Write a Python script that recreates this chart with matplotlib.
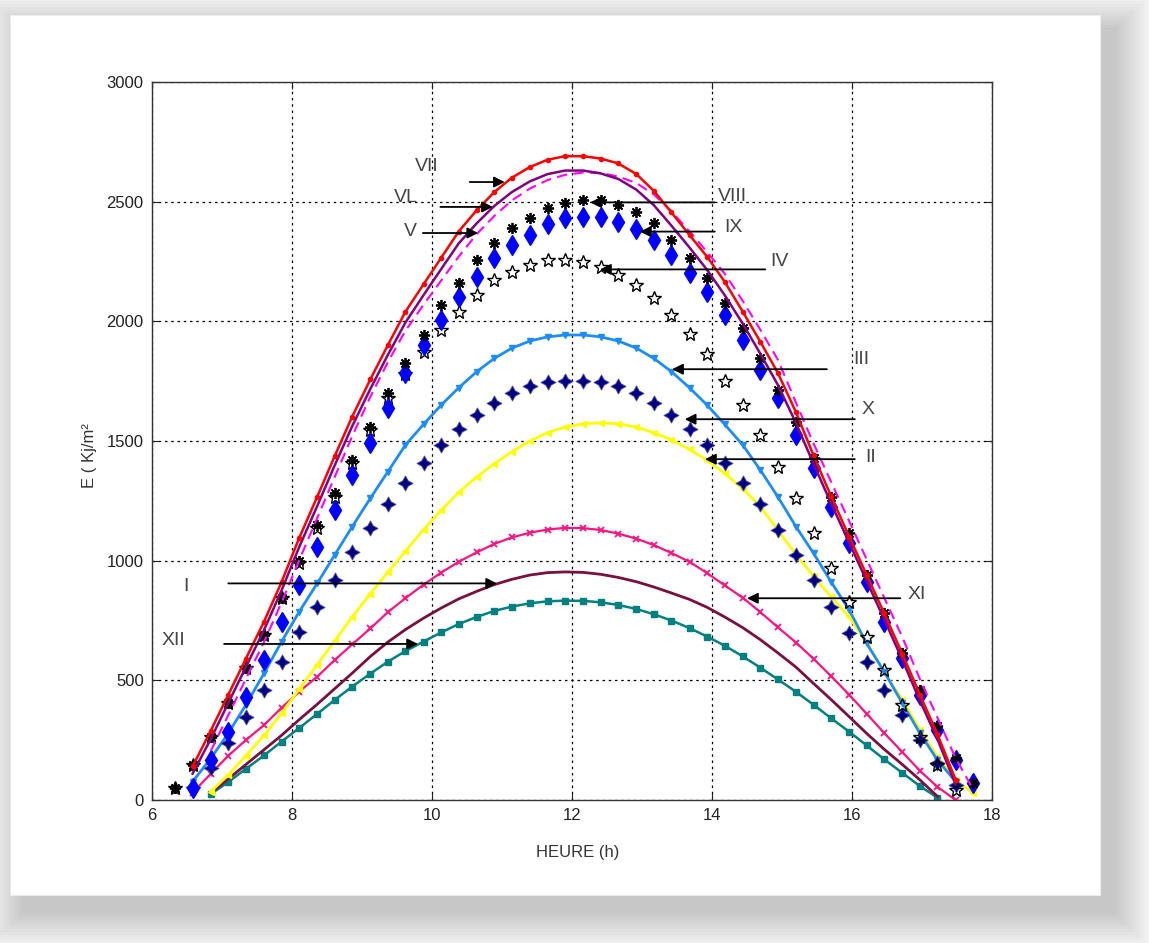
import numpy as np
import matplotlib
matplotlib.use('Agg')
import matplotlib.pyplot as plt
from matplotlib.patches import Rectangle

nan = np.nan

# heures (h)
heure = [6.33, 6.58, 6.84, 7.09, 7.34, 7.60, 7.85, 8.10, 8.36, 8.61,
         8.86, 9.12, 9.37, 9.62, 9.88, 10.13, 10.38, 10.64, 10.89, 11.14,
         11.40, 11.65, 11.90, 12.16, 12.41, 12.66, 12.92, 13.17, 13.42, 13.68,
         13.93, 14.18, 14.44, 14.69, 14.94, 15.20, 15.45, 15.70, 15.96, 16.21,
         16.46, 16.72, 16.97, 17.22, 17.48, 17.73]

# energie E (Kj/m2) pour chaque mois
E_I = [nan, nan, 30, 88, 148, 210, 270, 335, 400, 465,
       530, 600, 660, 712, 760, 802, 840, 872, 900, 922,
       940, 950, 953, 951, 943, 930, 912, 890, 865, 838,
       805, 765, 720, 670, 615, 555, 487, 420, 348, 278,
       212, 148, 84, 15, nan, nan]
E_II = [nan, nan, 35, 105, 185, 270, 362, 462, 565, 665,
        765, 862, 952, 1040, 1130, 1210, 1285, 1350, 1405, 1455,
        1500, 1535, 1558, 1572, 1576, 1572, 1558, 1535, 1505, 1465,
        1420, 1365, 1300, 1226, 1128, 1025, 935, 850, 765, 654,
        536, 418, 293, 181, 84, 28]
E_III = [nan, 77, 174, 279, 397, 529, 661, 785, 905, 1024,
         1142, 1261, 1372, 1483, 1570, 1650, 1722, 1790, 1845, 1888,
         1918, 1935, 1943, 1943, 1935, 1918, 1888, 1845, 1790, 1722,
         1650, 1570, 1483, 1379, 1267, 1142, 1031, 912, 794, 654,
         536, 404, 279, 167, 77, nan]
E_IV = [50, 146, 265, 404, 550, 690, 843, 990, 1136, 1267,
        1408, 1546, 1680, 1780, 1873, 1964, 2039, 2110, 2173, 2206,
        2236, 2257, 2257, 2248, 2227, 2194, 2150, 2097, 2027, 1947,
        1864, 1751, 1650, 1525, 1393, 1260, 1114, 968, 826, 682,
        543, 395, 265, 145, 40, nan]
E_V = [nan, nan, 205, 355, 505, 660, 825, 1000, 1178, 1350,
       1520, 1685, 1830, 1960, 2070, 2170, 2270, 2365, 2440, 2505,
       2555, 2590, 2612, 2622, 2620, 2605, 2578, 2530, 2460, 2375,
       2290, 2200, 2085, 1965, 1840, 1660, 1490, 1330, 1165, 1005,
       845, 680, 505, 345, 175, 45]
E_VI = [nan, 110, 255, 405, 555, 710, 875, 1055, 1228, 1398,
        1562, 1718, 1860, 1995, 2110, 2218, 2325, 2410, 2482, 2540,
        2585, 2615, 2630, 2630, 2618, 2595, 2550, 2485, 2400, 2308,
        2215, 2110, 1990, 1865, 1735, 1575, 1405, 1240, 1075, 915,
        755, 585, 415, 255, 65, nan]
E_VII = [nan, 140, 290, 440, 590, 745, 910, 1093, 1267, 1437,
         1602, 1758, 1901, 2040, 2155, 2265, 2375, 2465, 2540, 2600,
         2645, 2675, 2690, 2690, 2680, 2660, 2615, 2545, 2455, 2360,
         2270, 2166, 2040, 1915, 1785, 1620, 1440, 1270, 1100, 940,
         780, 610, 440, 275, 85, nan]
E_VIII = [50, 146, 265, 404, 550, 690, 843, 1000, 1149, 1282,
          1421, 1560, 1700, 1825, 1943, 2068, 2159, 2256, 2326, 2389,
          2431, 2472, 2496, 2507, 2507, 2486, 2455, 2410, 2340, 2263,
          2183, 2075, 1971, 1846, 1713, 1581, 1428, 1267, 1114, 940,
          780, 613, 460, 310, 175, 70]
E_IX = [nan, 50, 167, 285, 432, 585, 745, 898, 1058, 1212,
        1358, 1491, 1638, 1783, 1901, 2006, 2103, 2187, 2263, 2319,
        2361, 2407, 2431, 2437, 2437, 2416, 2385, 2340, 2277, 2201,
        2124, 2027, 1922, 1797, 1678, 1525, 1386, 1226, 1073, 912,
        745, 592, 439, 292, 167, 71]
E_X = [nan, 56, 132, 237, 348, 460, 578, 703, 808, 919,
       1038, 1135, 1236, 1323, 1407, 1483, 1550, 1610, 1660, 1700,
       1728, 1745, 1752, 1752, 1745, 1728, 1700, 1660, 1610, 1550,
       1483, 1407, 1323, 1236, 1128, 1024, 919, 808, 697, 578,
       460, 355, 251, 153, 63, nan]
E_XI = [nan, 30, 110, 185, 250, 313, 385, 452, 515, 585,
        650, 717, 785, 843, 900, 950, 995, 1035, 1070, 1097,
        1117, 1130, 1137, 1136, 1128, 1113, 1092, 1065, 1032, 995,
        948, 897, 845, 785, 722, 658, 590, 518, 440, 360,
        280, 200, 122, 55, 0, nan]
E_XII = [nan, nan, 25, 75, 130, 186, 244, 300, 360, 418,
         474, 528, 578, 622, 662, 700, 735, 765, 790, 808,
         822, 830, 833, 832, 826, 815, 798, 776, 750, 718,
         683, 645, 600, 553, 504, 452, 398, 342, 285, 228,
         170, 113, 58, 10, nan, nan]

# etiquettes des mois et fleches
mois = ['VII', 'VL', 'V', 'VIII', 'IX', 'IV', 'III', 'X', 'II', 'XI', 'I', 'XII']
mois_x = [9.93, 9.62, 9.69, 14.29, 14.3, 14.96, 16.13, 16.23, 16.26, 16.93, 6.49, 6.31]
mois_y = [2645, 2516, 2375, 2520, 2390, 2248, 1839, 1630, 1433, 857, 890, 668]
fleche_x0 = [10.54, 10.12, 9.87, 14.04, 14.04, 14.76, 15.64, 16.04, 16.04, 16.69, 7.09, 7.03]
fleche_x1 = [11.04, 10.87, 10.66, 12.26, 12.97, 12.40, 13.43, 13.61, 13.90, 14.50, 10.93, 9.80]
fleche_y = [2582, 2478, 2369, 2497, 2375, 2217, 1800, 1591, 1424, 843, 905, 652]

plt.rcParams['font.family'] = ['Liberation Sans', 'DejaVu Sans']

fig = plt.figure(figsize=(11.49, 9.43), dpi=100)
W, H = 1149.0, 943.0

# carte blanche avec ombre (en bas a droite)
for i in range(14, 0, -1):
    g = 3.0 * i
    fig.add_artist(Rectangle(((10 + 14 - g) / W, (H - 895 - 16 - g) / H),
                             (1090 + 2 * g) / W, (880 + 2 * g) / H,
                             transform=fig.transFigure, facecolor='#000000',
                             alpha=0.016, edgecolor='none', zorder=-5))
fig.add_artist(Rectangle((10 / W, (H - 895) / H), 1090 / W, 880 / H,
                         transform=fig.transFigure, facecolor='white',
                         edgecolor='#ececec', lw=0.8, zorder=-4))

ax = fig.add_axes([152 / W, 1 - 800 / H, 840 / W, 718 / H])
ax.set_facecolor('white')

t = np.array(heure)
ax.plot(t, E_XII, color='#008080', marker='s', ms=4, lw=1.8)
ax.plot(t, E_I, color='#7A0F40', lw=2.0)
ax.plot(t, E_XI, color='#FF1480', marker='x', ms=5, mew=1.3, lw=1.6)
ax.plot(t, E_II, color='#FFFF00', marker='<', ms=5, lw=2.0)
ax.plot(t, E_III, color='#1E8CFF', marker='v', ms=5, lw=2.0)
ax.plot(t, E_X, ls='none', marker=(4, 1, 0), ms=11, color='#000080',
        mec='#5050b0', mew=0.6)
ax.plot(t, E_IV, ls='none', marker='*', ms=10, mfc='none', mec='black', mew=1.0)
ax.plot(t, E_IX, ls='none', marker='d', ms=10, color='#0000FF')
ax.plot(t, E_VIII, ls='none', marker=(8, 2, 0), ms=8, mew=1.3, color='black')
ax.plot(t, E_V, color='#FF00FF', ls=(0, (5, 3)), lw=1.5)
ax.plot(t, E_VI, color='#800080', lw=1.8)
ax.plot(t, E_VII, color='#FF0000', marker='.', ms=6, lw=1.8)

for lab, x, y, x0, x1, yf in zip(mois, mois_x, mois_y, fleche_x0, fleche_x1, fleche_y):
    ax.text(x, y, lab, fontsize=14, color='#444444', ha='center', va='center',
            family=['Liberation Sans Narrow', 'Liberation Sans'])
    ax.annotate('', xy=(x1, yf), xytext=(x0, yf),
                arrowprops=dict(arrowstyle='-|>', color='black', lw=1.3,
                                mutation_scale=16, shrinkA=0, shrinkB=0))

ax.set_xlim(6, 18)
ax.set_ylim(0, 3000)
ax.set_xticks(range(6, 19, 2))
ax.set_yticks(range(0, 3001, 500))
ax.grid(True, color='black', ls=(0, (2, 3)), lw=0.9)
ax.tick_params(direction='in', top=True, right=True, length=5, labelsize=12,
               colors='#222222', pad=6)
for s in ax.spines.values():
    s.set_color('#333333')
    s.set_linewidth(1.0)

ax.set_xlabel('HEURE (h)', fontsize=12, color='#333333')
ax.set_ylabel('E ( Kj/m²', fontsize=12, color='#333333')
ax.xaxis.set_label_coords(0.507, -0.062)
ax.yaxis.set_label_coords(-0.066, 0.48)

fig.savefig('out.png', dpi=100)
